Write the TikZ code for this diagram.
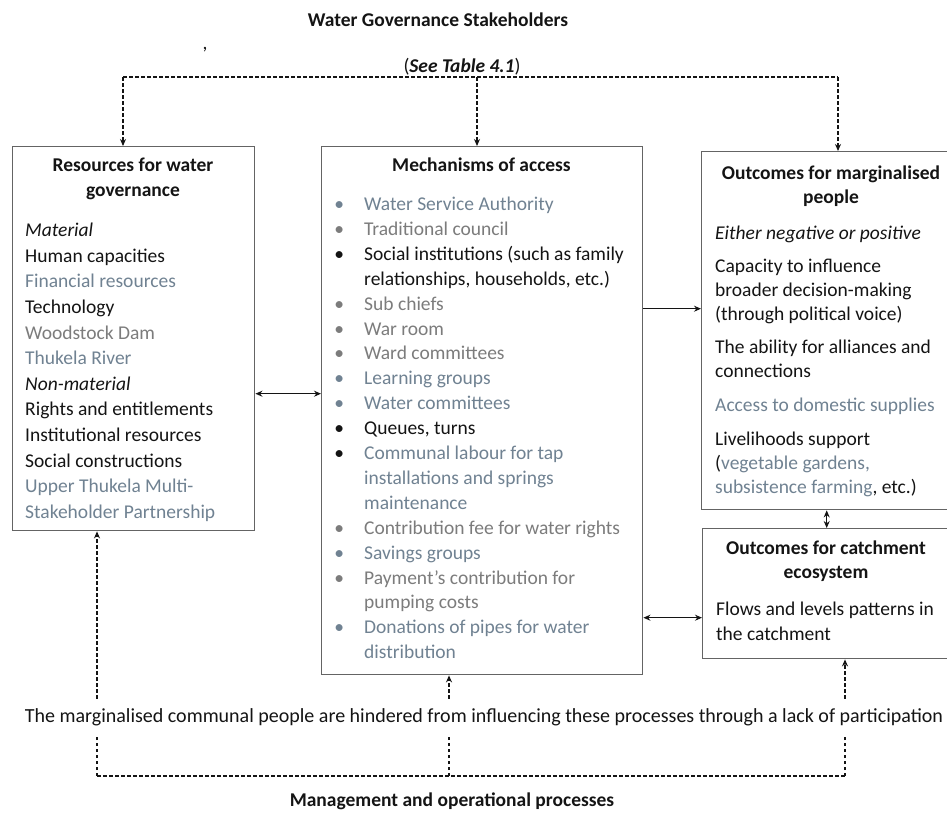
\documentclass[tikz,border=0pt]{standalone}
\usepackage{fontspec}
\setmainfont{Carlito}
\usetikzlibrary{arrows.meta}
\definecolor{gt}{RGB}{112,130,146}
\definecolor{gy}{RGB}{124,124,124}
\definecolor{dk}{RGB}{20,20,20}
\definecolor{bd}{RGB}{100,100,100}
\newcommand\mbul[1]{\makebox[12pt]{\textcolor{#1}{\textbullet}}\hspace{19pt}}
\newcommand\mind{\makebox[31pt]{}}
\begin{document}
\begin{tikzpicture}[x=1pt,y=-1pt,
  boxstyle/.style={draw=bd, line width=1.4pt, anchor=north west, inner sep=0pt},
  ttl/.style={font=\fontsize{19.5}{24.8}\selectfont\bfseries, align=center, anchor=base, text=dk, inner sep=0pt},
  bodytxt/.style={align=left, anchor=base west, text=dk, inner sep=0pt},
  tipa/.tip={Stealth[length=7pt,width=6pt]},
  conn/.style={line width=1.1pt, draw=dk, -tipa},
  dconn/.style={line width=1.1pt, draw=dk, tipa-tipa},
  dashconn/.style={line width=1.1pt, draw=dk, dash pattern=on 3.5pt off 2.5pt},
]
\useasboundingbox (0,0) rectangle (947,816);
\fill[white] (0,0) rectangle (947,816);

% boxes
\node[boxstyle, minimum width=242pt, minimum height=384pt] (res) at (12,146) {};
\node[boxstyle, minimum width=321pt, minimum height=528pt] (mech) at (321,146) {};
\node[boxstyle, minimum width=250pt, minimum height=358pt] (out) at (701,151) {};
\node[boxstyle, minimum width=249pt, minimum height=130pt] (eco) at (702,528) {};

% headings (anchor base = baseline of the LAST line)
\node[ttl] (title) at (438,27) {Water Governance Stakeholders};
\node[anchor=base, inner sep=0pt, text=dk, font=\fontsize{19.5}{24}\selectfont] (comma) at (205,49) {,};
\node[anchor=base, inner sep=0pt, text=dk, font=\fontsize{19.5}{24}\selectfont] (see) at (462,73) {(\textbf{\textit{See Table 4.1}})};
\node[anchor=base, inner xsep=2pt, inner ysep=9pt, text=dk, font=\fontsize{20}{24}\selectfont] (hind) at (484,722)
  {The marginalised communal people are hindered from influencing these processes through a lack of participation};
\node[ttl] (mgmt) at (452,806) {Management and operational processes};

% left box content
\node[ttl, font=\fontsize{19.5}{25}\selectfont\bfseries] (resT) at (133,196.5) {Resources for water\\governance};
\node[bodytxt, font=\fontsize{19.5}{25.64}\selectfont] (resB) at (25,518.5) {%
\textit{Material}\\
Human capacities\\
\textcolor{gt}{Financial resources}\\
Technology\\
\textcolor{gy}{Woodstock Dam}\\
\textcolor{gt}{Thukela River}\\
\textit{Non-material}\\
Rights and entitlements\\
Institutional resources\\
Social constructions\\
\textcolor{gt}{Upper Thukela Multi-}\\
\textcolor{gt}{Stakeholder Partnership}};

% middle box content
\node[ttl] (mechT) at (481.5,171) {Mechanisms of access};
\node[bodytxt, font=\fontsize{19.5}{24.9}\selectfont] (mechB) at (333,658.7) {%
\mbul{gt}\textcolor{gt}{Water Service Authority}\\
\mbul{gy}\textcolor{gy}{Traditional council}\\
\mbul{dk}Social institutions (such as family\\
\mind relationships, households, etc.)\\
\mbul{gy}\textcolor{gy}{Sub chiefs}\\
\mbul{gy}\textcolor{gy}{War room}\\
\mbul{gy}\textcolor{gy}{Ward committees}\\
\mbul{gt}\textcolor{gt}{Learning groups}\\
\mbul{gt}\textcolor{gt}{Water committees}\\
\mbul{dk}Queues, turns\\
\mbul{dk}\textcolor{gt}{Communal labour for tap}\\
\mind\textcolor{gt}{installations and springs}\\
\mind\textcolor{gt}{maintenance}\\
\mbul{gy}\textcolor{gy}{Contribution fee for water rights}\\
\mbul{gt}\textcolor{gt}{Savings groups}\\
\mbul{gy}\textcolor{gy}{Payment’s contribution for}\\
\mind\textcolor{gy}{pumping costs}\\
\mbul{gt}\textcolor{gt}{Donations of pipes for water}\\
\mind\textcolor{gt}{distribution}};

% right top box content
\node[ttl, font=\fontsize{19.5}{24.5}\selectfont\bfseries] (outT) at (831,203.5) {Outcomes for marginalised\\people};
\node[bodytxt, font=\fontsize{19.5}{23.8}\selectfont] (outB) at (715,493.2) {%
\textit{Either negative or positive}\\[9.5pt]
Capacity to influence\\
broader decision-making\\
(through political voice)\\[9.5pt]
The ability for alliances and\\
connections\\[10.5pt]
\textcolor{gt}{Access to domestic supplies}\\[10pt]
Livelihoods support\\
(\textcolor{gt}{vegetable gardens,}\\
\textcolor{gt}{subsistence farming}, etc.)};

% right bottom box content
\node[ttl, font=\fontsize{19.5}{24.5}\selectfont\bfseries] (ecoT) at (826,578.5) {Outcomes for catchment\\ecosystem};
\node[bodytxt, font=\fontsize{19.5}{25}\selectfont] (ecoB) at (716,640.5) {Flows and levels patterns in\\the catchment};

% top dashed connectors
\coordinate (tl) at (123,77);
\coordinate (tm) at (477,77);
\coordinate (tr) at (838,77);
\draw[dashconn] (tl) -- (tr);
\draw[dashconn, -tipa] (tl) -- (tl |- res.north);
\draw[dashconn, -tipa] (tm) -- (tm |- mech.north);
\draw[dashconn, -tipa] (tr) -- (tr |- out.north);

% solid connectors
\draw[dconn] ([yshift=-55pt]res.east) -- ([yshift=-55pt]res.east -| mech.west);
\coordinate (a1) at ([yshift=22pt]out.west);
\draw[conn] (a1 -| mech.east) -- (a1);
\coordinate (a2) at ([yshift=-24pt]eco.west);
\draw[dconn] (a2 -| mech.east) -- (a2);
\draw[dconn] (out.south) -- (out.south |- eco.north);

% bottom dashed connectors
\coordinate (bl) at (97,776);
\coordinate (bm) at (449,776);
\coordinate (br) at (845,776);
\draw[dashconn] (bl) -- (br);
\draw[dashconn] (bl) -- (bl |- hind.south);
\draw[dashconn] (bm) -- (bm |- hind.south);
\draw[dashconn] (br) -- (br |- hind.south);
\draw[dashconn, -tipa] (bl |- hind.north) -- (bl |- res.south);
\draw[dashconn, -tipa] (bm |- hind.north) -- (bm |- mech.south);
\draw[dashconn, -tipa] (br |- hind.north) -- (br |- eco.south);
\end{tikzpicture}
\end{document}
